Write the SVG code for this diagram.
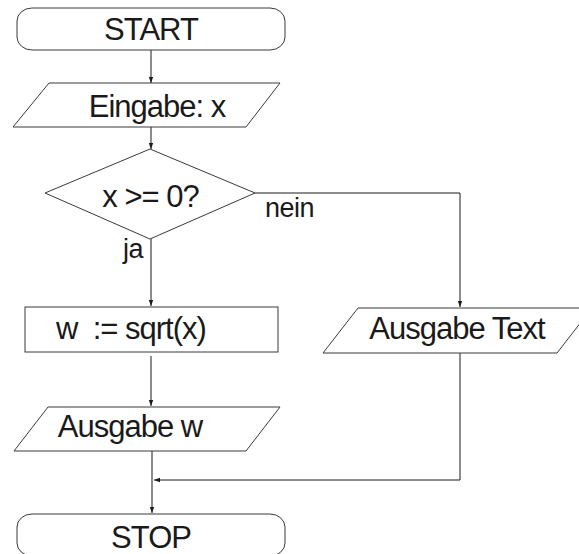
<svg xmlns="http://www.w3.org/2000/svg" width="579" height="554" viewBox="0 0 579 554">
  <style>
    .shape { fill: #ffffff; stroke: #3a3a3a; stroke-width: 1; }
    .label { font-family: "Liberation Sans", Arial, sans-serif; font-size: 31px; letter-spacing: -1px; fill: #1a1a1a; text-anchor: middle; white-space: pre; }
    .edge-label { font-family: "Liberation Sans", Arial, sans-serif; font-size: 27px; letter-spacing: -0.5px; fill: #1a1a1a; }
    .conn { fill: none; stroke: #1a1a1a; stroke-width: 1; }
  </style>
  <defs>
    <marker id="arrow" viewBox="0 0 6 6" refX="6" refY="3" markerWidth="6" markerHeight="6" markerUnits="userSpaceOnUse" orient="auto">
      <path d="M0,0.8 L6,3 L0,5.2 Z" fill="#1a1a1a"/>
    </marker>
  </defs>
  <rect width="579" height="554" fill="#ffffff"/>

  <g id="connectors">
    <path class="conn" d="M151,50 V83" marker-end="url(#arrow)"/>
    <path class="conn" d="M151,127 V149" marker-end="url(#arrow)"/>
    <path class="conn" d="M151,239 V306" marker-end="url(#arrow)"/>
    <path class="conn" d="M255,193 H460 V307" marker-end="url(#arrow)"/>
    <path class="conn" d="M151,356 V406" marker-end="url(#arrow)"/>
    <path class="conn" d="M152,451 V513" marker-end="url(#arrow)"/>
    <path class="conn" d="M460,353 V480 H154" marker-end="url(#arrow)"/>
    <text class="edge-label" x="265" y="217">nein</text>
    <text class="edge-label" x="123" y="258">ja</text>
  </g>

  <g id="start">
    <rect class="shape" x="17" y="8" width="268" height="42" rx="15" ry="13"/>
    <text class="label" x="151" y="40">START</text>
  </g>

  <g id="input-x">
    <polygon class="shape" points="49,83 280,83 246,127 13,127"/>
    <text class="label" x="157" y="117">Eingabe: x</text>
  </g>

  <g id="decision">
    <polygon class="shape" points="150,149 255,193 150,239 45,193"/>
    <text class="label" x="150.5" y="207">x &gt;= 0?</text>
  </g>

  <g id="compute">
    <rect class="shape" x="25" y="307" width="253" height="45"/>
    <text class="label" x="131" y="339" xml:space="preserve">w  := sqrt(x)</text>
  </g>

  <g id="output-text">
    <polygon class="shape" points="358,308 592,308 557,353 323,353"/>
    <text class="label" x="457" y="339">Ausgabe Text</text>
  </g>

  <g id="output-w">
    <polygon class="shape" points="48,407 280,407 246,451 14,451"/>
    <text class="label" x="130" y="437">Ausgabe w</text>
  </g>

  <g id="stop">
    <rect class="shape" x="17" y="514" width="268" height="42" rx="15" ry="13"/>
    <text class="label" x="151" y="548">STOP</text>
  </g>
</svg>
